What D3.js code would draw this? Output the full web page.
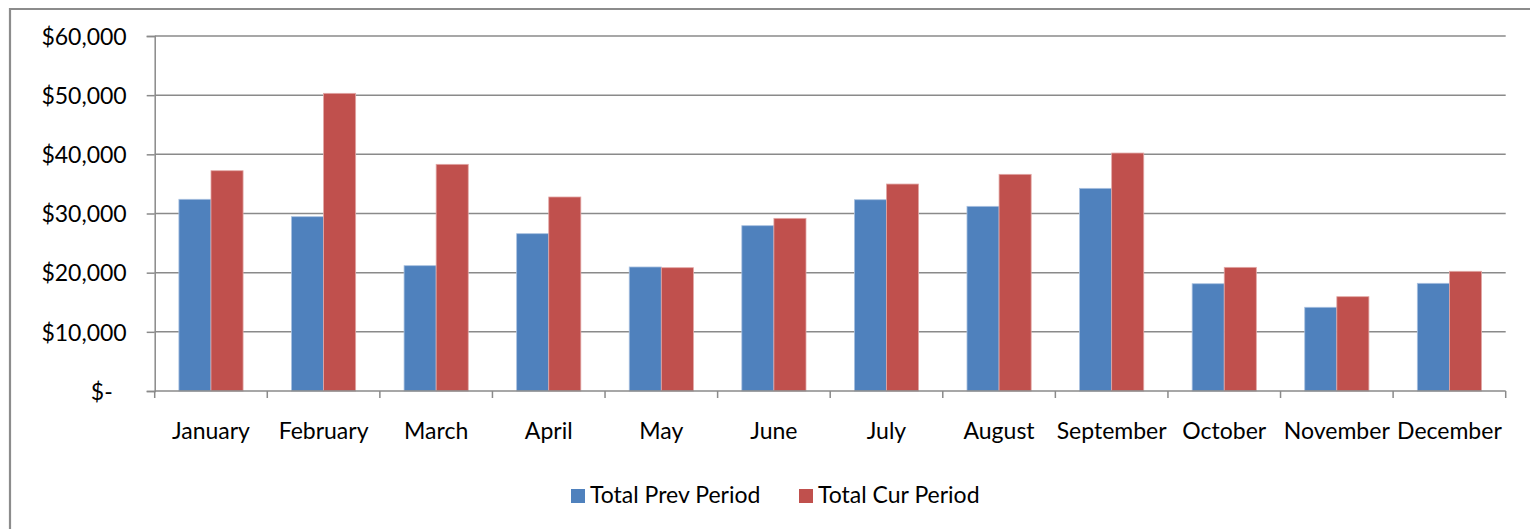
<!DOCTYPE html>
<html>
<head>
<meta charset="utf-8">
<script src="https://cdn.jsdelivr.net/npm/d3@7"></script>
<style>
  html, body { margin: 0; padding: 0; background: #fff; }
  svg { display: block; }
  text { font-family: Lato, "Open Sans", sans-serif; fill: #000; }
</style>
</head>
<body>
<svg id="chart" width="1530" height="529"></svg>
<script>
const months = ["January","February","March","April","May","June","July","August","September","October","November","December"];
const seriesNames = ["Total Prev Period", "Total Cur Period"];
const prevPeriod = [32400, 29460, 21180, 26590, 20960, 27940, 32330, 31210, 34250, 18130, 14150, 18200];
const curPeriod  = [37230, 50310, 38310, 32790, 20840, 29180, 34980, 36620, 40220, 20900, 15940, 20230];
const yTickValues = [0, 10000, 20000, 30000, 40000, 50000, 60000];
const yTickLabels = ["$-", "$10,000", "$20,000", "$30,000", "$40,000", "$50,000", "$60,000"];
const colors = ["#4F81BD", "#C0504D"];

const svg = d3.select("#chart");
const L = 154.7, R = 1505.7, T = 36, B = 391;
const gridColor = "#8a8a8a";
const fs = "23px";

// outer chart border
svg.append("path")
  .attr("d", `M10,529 L10,9 L1530,9`)
  .attr("fill", "none").attr("stroke", "#8c8c8c").attr("stroke-width", 2.2);

const x0 = d3.scaleBand().domain(months).range([L, R]).paddingInner(0.43).paddingOuter(0.215);
const x1 = d3.scaleBand().domain(seriesNames).range([0, x0.bandwidth()]);
const y = d3.scaleLinear().domain([0, 60000]).range([B, T]);

// gridlines
svg.append("g").selectAll("line").data(yTickValues.filter(v => v > 0)).join("line")
  .attr("x1", L).attr("x2", R)
  .attr("y1", d => y(d)).attr("y2", d => y(d))
  .attr("stroke", gridColor).attr("stroke-width", 1.5);

// bars
const data = months.map((m, i) => ({ month: m, values: [prevPeriod[i], curPeriod[i]] }));
const groups = svg.append("g").selectAll("g").data(data).join("g")
  .attr("transform", d => `translate(${x0(d.month)},0)`);
groups.selectAll("rect").data(d => d.values.map((v, j) => ({ v, j }))).join("rect")
  .attr("x", d => x1(seriesNames[d.j]))
  .attr("width", x1.bandwidth())
  .attr("y", d => y(d.v))
  .attr("height", d => y(0) - y(d.v))
  .attr("fill", d => colors[d.j])
  .attr("stroke", d => d.j === 0 ? "#a9c1e0" : "#e2a7a5")
  .attr("stroke-width", 0.8);

// y axis
const yAxis = d3.axisLeft(y).tickValues(yTickValues)
  .tickFormat((d, i) => yTickLabels[i]).tickSize(8).tickPadding(20);
const gy = svg.append("g").attr("transform", `translate(${L},0)`).call(yAxis);
gy.select(".domain").attr("stroke", gridColor).attr("stroke-width", 1.5);
gy.selectAll(".tick line").attr("stroke", gridColor).attr("stroke-width", 1.5);
gy.selectAll(".tick text").style("font-size", fs).attr("font-family", null)
  .attr("dy", "0.36em")
  .attr("dx", d => d === 0 ? -14 : 0);

// x axis
const xBoundaries = d3.scaleLinear().domain([0, months.length]).range([L, R]);
const gx = svg.append("g");
gx.append("line").attr("x1", L).attr("x2", R).attr("y1", B).attr("y2", B)
  .attr("stroke", gridColor).attr("stroke-width", 1.5);
gx.selectAll("line.tk").data(d3.range(months.length + 1)).join("line")
  .attr("class", "tk")
  .attr("x1", d => xBoundaries(d)).attr("x2", d => xBoundaries(d))
  .attr("y1", B).attr("y2", B + 7)
  .attr("stroke", gridColor).attr("stroke-width", 1.5);
gx.selectAll("text").data(months).join("text")
  .attr("x", d => x0(d) + x0.bandwidth() / 2)
  .attr("y", 439)
  .attr("text-anchor", "middle")
  .style("font-size", fs)
  .text(d => d);

// legend
const legend = svg.append("g");
const legendX = [571, 799];
seriesNames.forEach((s, i) => {
  legend.append("rect").attr("x", legendX[i]).attr("y", 489).attr("width", 14).attr("height", 14)
    .attr("fill", colors[i]);
  legend.append("text").attr("x", legendX[i] + 19).attr("y", 503)
    .style("font-size", fs).text(s);
});
</script>
</body>
</html>
